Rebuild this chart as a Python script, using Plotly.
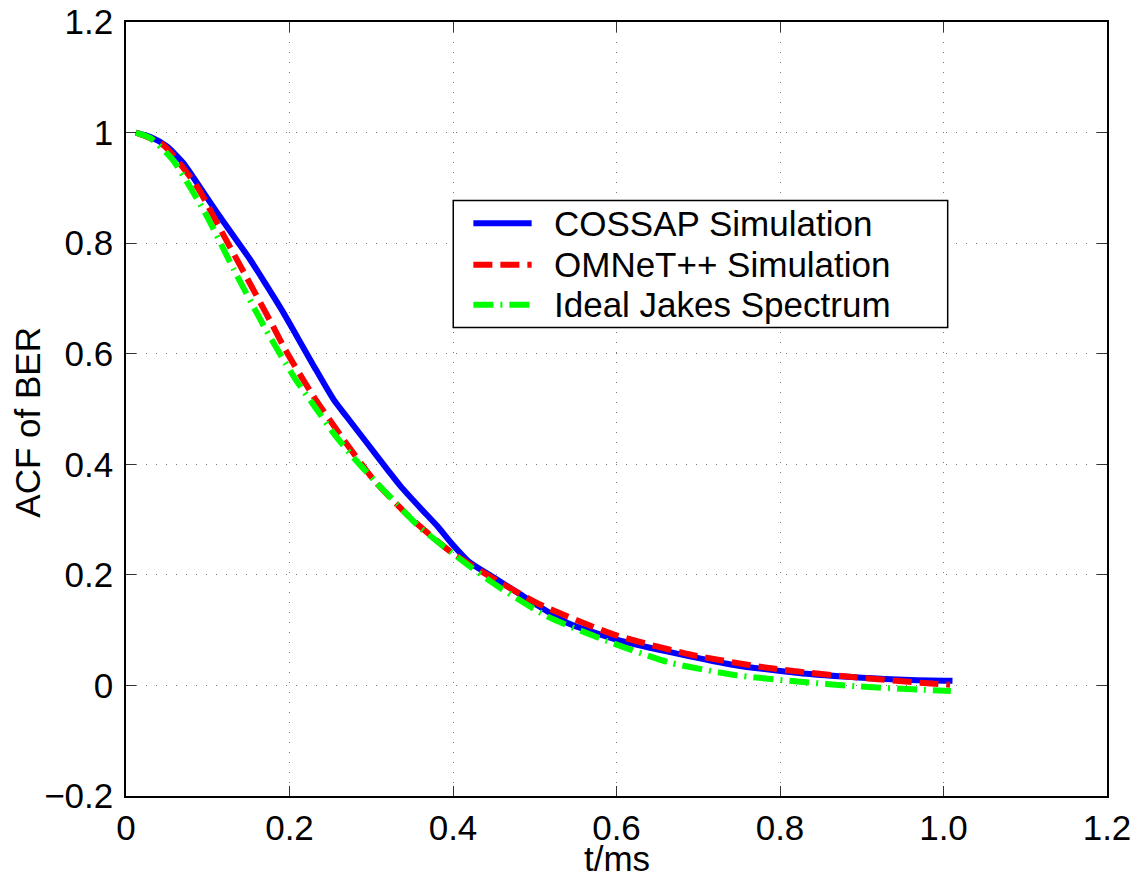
import plotly.graph_objects as go

# ACF of BER vs lag (t/ms)
cossap_t = [0.012, 0.03, 0.05, 0.07, 0.09, 0.111, 0.13, 0.152, 0.17, 0.193, 0.21, 0.23,
            0.254, 0.27, 0.295, 0.32, 0.336, 0.36, 0.381, 0.40, 0.42, 0.45, 0.48, 0.50, 0.54,
            0.60, 0.66, 0.74, 0.82, 0.90, 0.96, 1.011]
cossap_acf = [1.0, 0.992, 0.975, 0.945, 0.902, 0.856, 0.816, 0.770, 0.728, 0.673, 0.629, 0.577,
              0.517, 0.486, 0.438, 0.39, 0.36, 0.321, 0.288, 0.254, 0.223, 0.195, 0.167, 0.148,
              0.113, 0.083, 0.062, 0.038, 0.023, 0.014, 0.010, 0.0085]

omnet_t = [0.012, 0.046, 0.087, 0.118, 0.148, 0.179, 0.195, 0.228, 0.265, 0.303, 0.348,
           0.397, 0.452, 0.507, 0.597, 0.69, 0.784, 0.882, 0.98, 1.008]
omnet_acf = [1.0, 0.977, 0.902, 0.818, 0.737, 0.652, 0.607, 0.526, 0.447, 0.372, 0.303,
             0.242, 0.191, 0.146, 0.092, 0.056, 0.032, 0.016, 0.004, 0.001]

jakes_t = [0.012, 0.03, 0.057, 0.097, 0.132, 0.169, 0.189, 0.209, 0.232, 0.254, 0.279,
           0.305, 0.332, 0.36, 0.389, 0.421, 0.452, 0.515, 0.589, 0.666, 0.744, 0.821,
           0.899, 0.976, 1.009]
jakes_acf = [1.0, 0.99, 0.951, 0.854, 0.752, 0.649, 0.598, 0.55, 0.502, 0.456, 0.411,
             0.369, 0.327, 0.285, 0.251, 0.215, 0.182, 0.125, 0.080, 0.041, 0.019, 0.007,
             -0.002, -0.008, -0.01]

series_names = ["COSSAP Simulation", "OMNeT++ Simulation", "Ideal Jakes Spectrum"]

x_ticks = [0, 0.2, 0.4, 0.6, 0.8, 1.0, 1.2]
x_labels = ["0", "0.2", "0.4", "0.6", "0.8", "1.0", "1.2"]
y_ticks = [-0.2, 0, 0.2, 0.4, 0.6, 0.8, 1.0, 1.2]
y_labels = ["\u22120.2", "0", "0.2", "0.4", "0.6", "0.8", "1", "1.2"]

FONT = "Liberation Sans, Arial, Helvetica, sans-serif"
FS = 35
STYLES = [
    dict(color="#0000FF", width=6),
    dict(color="#FF0000", width=6, dash="19px,8px"),
    dict(color="#00FF00", width=6, dash="20px,7px,2px,7px"),
]

fig = go.Figure()
for name, xs, ys, st in zip(series_names,
                            [cossap_t, omnet_t, jakes_t],
                            [cossap_acf, omnet_acf, jakes_acf], STYLES):
    fig.add_trace(go.Scatter(
        x=xs, y=ys, name=name, mode="lines", showlegend=False,
        line=dict(shape="spline", smoothing=0.6, **st),
    ))

axis_common = dict(
    showline=True, linecolor="black", linewidth=1.5, mirror="ticks",
    ticks="inside", ticklen=10, tickcolor="#333", tickwidth=1,
    showgrid=True, gridcolor="#777", gridwidth=1, griddash="1px,9px",
    zeroline=False, automargin=False, ticklabeloverflow="allow",
    tickfont=dict(size=FS, color="black", family=FONT),
)

# hand-drawn MATLAB-style legend box (paper coords)
shapes = [dict(type="rect", xref="paper", yref="paper", x0=0.3336, x1=0.8376,
               y0=0.6053, y1=0.7693, line=dict(color="black", width=1.5),
               fillcolor="white", layer="above")]
annotations = []
for name, st, yy in zip(series_names, STYLES, [0.7401, 0.6863, 0.6346]):
    shapes.append(dict(type="line", xref="paper", yref="paper", x0=0.3541, x1=0.4135,
                       y0=yy, y1=yy, line=st, layer="above"))
    annotations.append(dict(text=name, xref="paper", yref="paper", x=0.4339, y=yy,
                            xanchor="left", yanchor="middle", showarrow=False,
                            font=dict(size=FS, family=FONT, color="black")))

annotations += [
    dict(text="ACF of BER", textangle=-90, xref="paper", yref="paper",
         x=-0.1004, y=0.483, xanchor="center", yanchor="middle",
         showarrow=False, font=dict(size=FS, family=FONT, color="black")),
    dict(text="t/ms", xref="paper", yref="paper", x=0.5, y=-0.081,
         xanchor="center", yanchor="middle",
         showarrow=False, font=dict(size=FS, family=FONT, color="black")),
]

# page body has an 8px offset, margins compensate for it
fig.update_layout(
    width=1143, height=876,
    margin=dict(l=118, r=44, t=14, b=88),
    paper_bgcolor="white", plot_bgcolor="white",
    font=dict(family=FONT, color="black"),
    xaxis=dict(range=[0, 1.2], tickvals=x_ticks, ticktext=x_labels, **axis_common),
    yaxis=dict(range=[-0.2, 1.2], tickvals=y_ticks, ticktext=y_labels,
               ticklabelstandoff=4, **axis_common),
    showlegend=False,
    shapes=shapes,
    annotations=annotations,
)

fig.write_html("out.html")
